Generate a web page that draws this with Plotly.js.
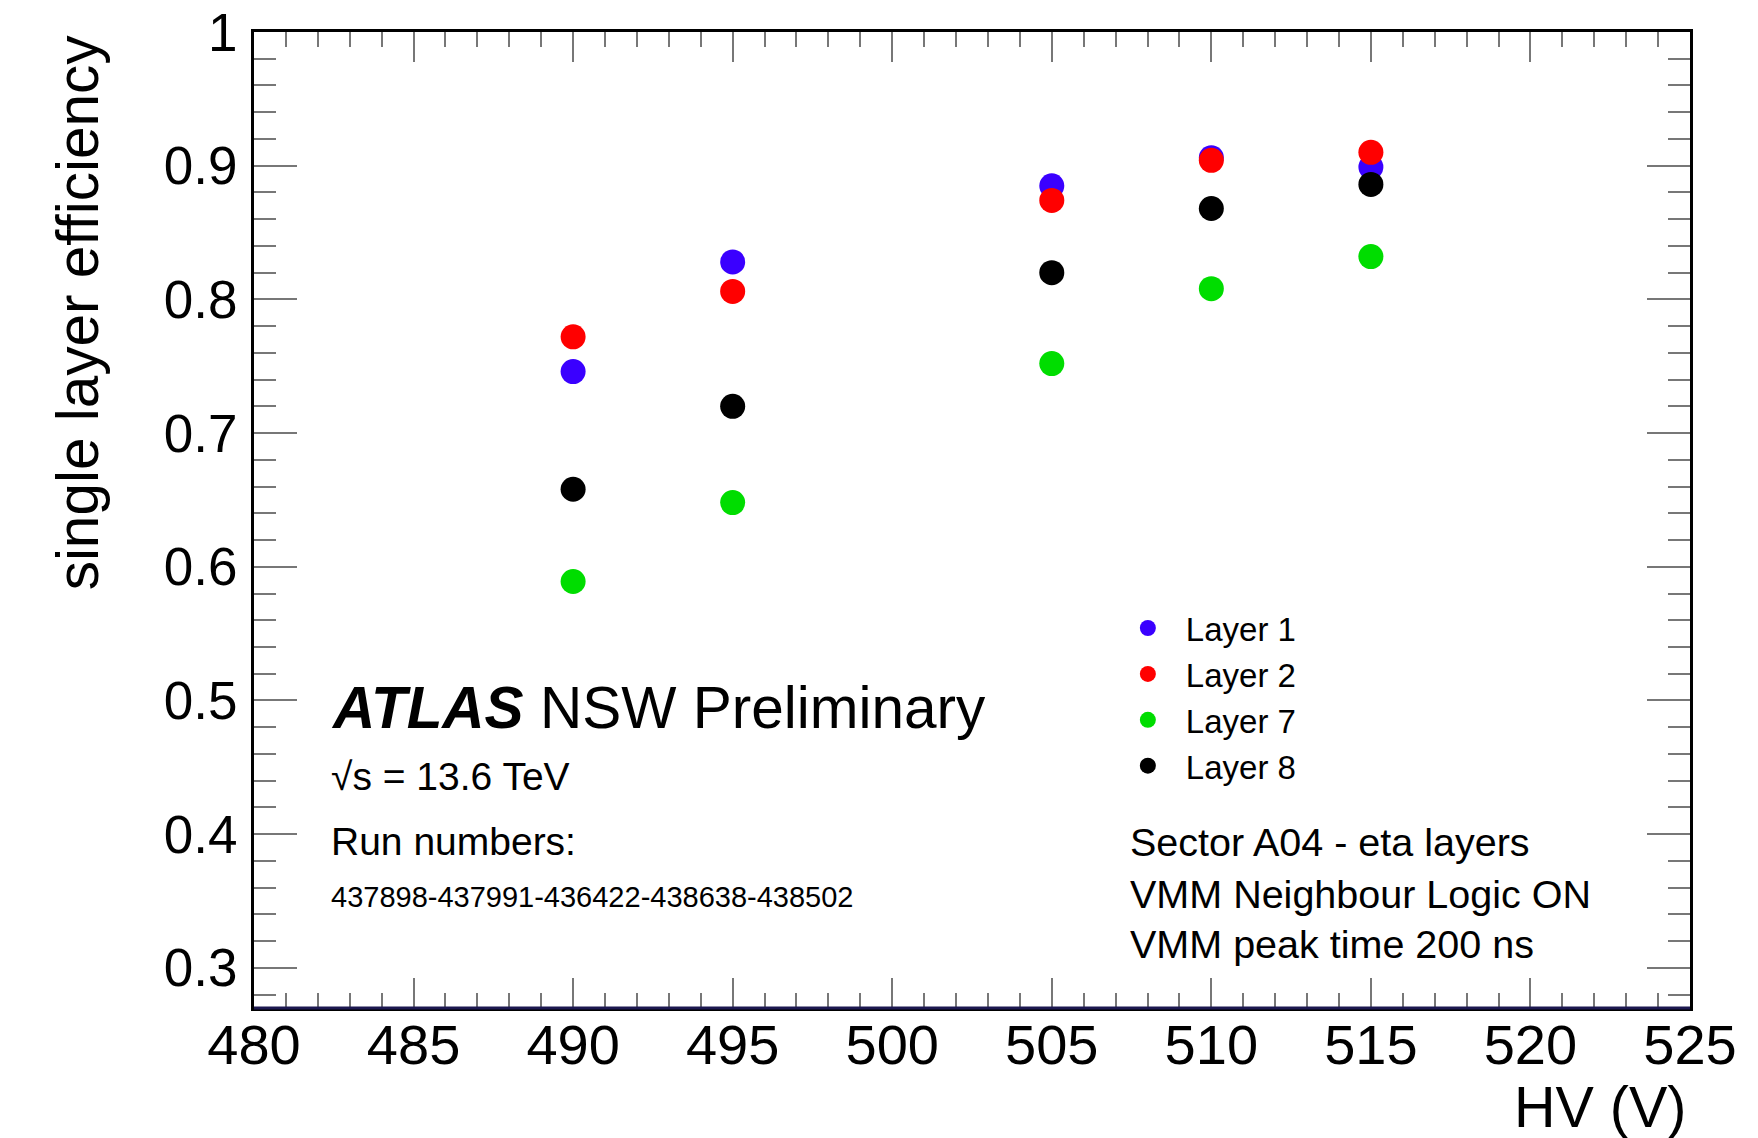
<!DOCTYPE html>
<html>
<head>
<meta charset="utf-8">
<script src="https://cdn.plot.ly/plotly-3.0.1.min.js"></script>
<style>html,body{margin:0;padding:0;background:#fff;}#chart{width:1758px;height:1138px;}</style>
</head>
<body>
<div id="chart"></div>
<script>
// HV values (V)
const hv = [490, 495, 505, 510, 515];
// single layer efficiency per layer
const layer1 = [0.746, 0.828, 0.885, 0.906, 0.899];
const layer2 = [0.772, 0.806, 0.874, 0.904, 0.910];
const layer7 = [0.589, 0.648, 0.752, 0.808, 0.832];
const layer8 = [0.658, 0.720, 0.820, 0.868, 0.886];
const seriesNames = ["Layer 1", "Layer 2", "Layer 7", "Layer 8"];
const seriesColors = ["#3a00ff", "#ff0000", "#00dd00", "#000000"];
const seriesValues = [layer1, layer2, layer7, layer8];

const FONT = "Liberation Sans, Helvetica, Arial, sans-serif";

const traces = seriesValues.map((vals, i) => ({
  type: "scatter",
  mode: "markers",
  x: hv,
  y: vals,
  name: seriesNames[i],
  marker: {color: seriesColors[i], size: 25, line: {width: 0}},
  cliponaxis: false
}));

const tickCol = "#777777";
const layout = {
  width: 1758,
  height: 1138,
  margin: {l: 254, r: 68, t: 32, b: 130},
  paper_bgcolor: "#ffffff",
  plot_bgcolor: "#ffffff",
  font: {family: FONT, color: "#000"},
  showlegend: true,
  legend: {
    x: 0.596, y: 0.418, xanchor: "left", yanchor: "top",
    bgcolor: "rgba(0,0,0,0)",
    font: {family: FONT, size: 33, color: "#000"},
    itemwidth: 66,
    itemsizing: "trace",
    tracegroupgap: 0
  },
  xaxis: {
    range: [480, 525],
    tick0: 480, dtick: 5,
    ticks: "inside", ticklen: 30, tickwidth: 2, tickcolor: tickCol,
    minor: {dtick: 1, ticks: "inside", ticklen: 15, tickwidth: 2, tickcolor: tickCol},
    showline: true, linecolor: "#000", linewidth: 3, mirror: "allticks",
    showgrid: false, zeroline: false,
    tickfont: {family: FONT, size: 56, color: "#000"},
    ticklabelstandoff: -14
  },
  yaxis: {
    range: [0.27, 1],
    tick0: 0, dtick: 0.1,
    ticks: "inside", ticklen: 43, tickwidth: 2, tickcolor: tickCol,
    minor: {dtick: 0.02, ticks: "inside", ticklen: 22, tickwidth: 2, tickcolor: tickCol},
    showline: true, linecolor: "#000", linewidth: 3, mirror: "allticks",
    showgrid: false, zeroline: false,
    tickfont: {family: FONT, size: 53, color: "#000"},
    ticklabelstandoff: 3
  },
  shapes: [
    {type: "line", xref: "paper", yref: "paper", x0: 0, x1: 1, y0: 0, y1: 0,
     line: {color: "#1c1850", width: 3}}
  ],
  annotations: [
    {text: "single layer efficiency", xref: "paper", yref: "paper", x: -0.123, y: 1.0,
     xanchor: "center", yanchor: "top", textangle: -90, showarrow: false,
     font: {family: FONT, size: 58.5, color: "#000"}},
    {text: "HV (V)", xref: "paper", yref: "paper", x: 0.999, y: -0.1014,
     xanchor: "right", yanchor: "middle", showarrow: false,
     font: {family: FONT, size: 57.5, color: "#000"}},
    {text: "<b><i>ATLAS</i></b> NSW Preliminary", xref: "paper", yref: "paper", x: 0.0525, y: 0.3074,
     xanchor: "left", yanchor: "middle", showarrow: false,
     font: {family: FONT, size: 58.5, color: "#000"}},
    {text: "√s = 13.6 TeV", xref: "paper", yref: "paper", x: 0.0525, y: 0.2367,
     xanchor: "left", yanchor: "middle", showarrow: false,
     font: {family: FONT, size: 39, color: "#000"}},
    {text: "Run numbers:", xref: "paper", yref: "paper", x: 0.0525, y: 0.1711,
     xanchor: "left", yanchor: "middle", showarrow: false,
     font: {family: FONT, size: 39, color: "#000"}},
    {text: "437898-437991-436422-438638-438502", xref: "paper", yref: "paper", x: 0.0525, y: 0.1137,
     xanchor: "left", yanchor: "middle", showarrow: false,
     font: {family: FONT, size: 29, color: "#000"}},
    {text: "Sector A04 - eta layers", xref: "paper", yref: "paper", x: 0.6085, y: 0.1701,
     xanchor: "left", yanchor: "middle", showarrow: false,
     font: {family: FONT, size: 39.5, color: "#000"}},
    {text: "VMM Neighbour Logic ON", xref: "paper", yref: "paper", x: 0.6085, y: 0.1168,
     xanchor: "left", yanchor: "middle", showarrow: false,
     font: {family: FONT, size: 39.5, color: "#000"}},
    {text: "VMM peak time 200 ns", xref: "paper", yref: "paper", x: 0.6085, y: 0.0656,
     xanchor: "left", yanchor: "middle", showarrow: false,
     font: {family: FONT, size: 39.5, color: "#000"}}
  ]
};

Plotly.newPlot("chart", traces, layout, {displayModeBar: false, staticPlot: true});
</script>
</body>
</html>
